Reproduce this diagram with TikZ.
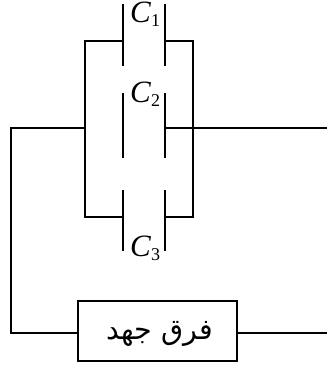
\documentclass[tikz,border=0pt]{standalone}
\usepackage{fontspec}
\setmainfont{Liberation Serif}
\newfontfamily\arabicfont[Script=Arabic]{DejaVu Sans}
\TeXXeTstate=1
\tikzset{
  wire/.style={line width=1.8pt,line cap=butt,line join=miter},
  thinwire/.style={line width=1.3pt},
  capname/.style={inner sep=0pt,anchor=base west,font=\fontsize{31}{31}\selectfont},
  psubox/.style={draw,line width=1.7pt,minimum width=159pt,minimum height=60pt,inner sep=0pt},
  psutext/.style={inner sep=0pt,font=\fontsize{28.5}{29}\selectfont\arabicfont}
}
\newcommand{\capsym}[2]{\textit{#1}\raisebox{-4pt}{\fontsize{18}{18}\selectfont #2}}
\begin{document}
\begin{tikzpicture}[x=1pt,y=-1pt]
\useasboundingbox (0,0) rectangle (327,366);
% capacitor plates
\coordinate (c1lt) at (123,4);  \coordinate (c1lb) at (123,66);
\coordinate (c1rt) at (165,4);  \coordinate (c1rb) at (165,66);
\coordinate (c2lt) at (123,93); \coordinate (c2lb) at (123,158);
\coordinate (c2rt) at (165,93); \coordinate (c2rb) at (165,158);
\coordinate (c3lt) at (123,190);\coordinate (c3lb) at (123,251);
\coordinate (c3rt) at (165,190);\coordinate (c3rb) at (165,251);
\draw[wire] (c1lt)--(c1lb) (c1rt)--(c1rb);
\draw[wire] (c2lt)--(c2lb) (c2rt)--(c2rb);
\draw[wire] (c3lt)--(c3lb) (c3rt)--(c3rb);
% parallel branches
\coordinate (w1l) at (123,41); \coordinate (w1r) at (165,41);
\coordinate (w3l) at (123,217);\coordinate (w3r) at (165,217);
\draw[wire] (w1l)--(85,41)--(85,217)--(w3l);
\draw[wire] (w1r)--(193,41)--(193,217)--(w3r);
% source box
\node[psubox] (src) at (157.5,331) {};
\node[psutext] (srclabel) at (160,334) {\beginR فرق جهد\endR};
% leads
\coordinate (lj) at (85,128);
\coordinate (rj) at (165,128);
\coordinate (rend) at (327,128);
\coordinate (bend) at (327,333);
\draw[wire] (lj)--(11,128)--(11,333)--(src.west|-0,333);
\draw[wire] (rj)--(212,128);
\draw[thinwire] (212,128)--(rend);
\draw[thinwire] (src.east|-0,333)--(bend);
% labels
\node[capname] (n1) at (130,23) {\capsym{C}{1}};
\node[capname] (n2) at (130,103) {\capsym{C}{2}};
\node[capname] (n3) at (130,256) {\capsym{C}{3}};
\end{tikzpicture}
\end{document}
